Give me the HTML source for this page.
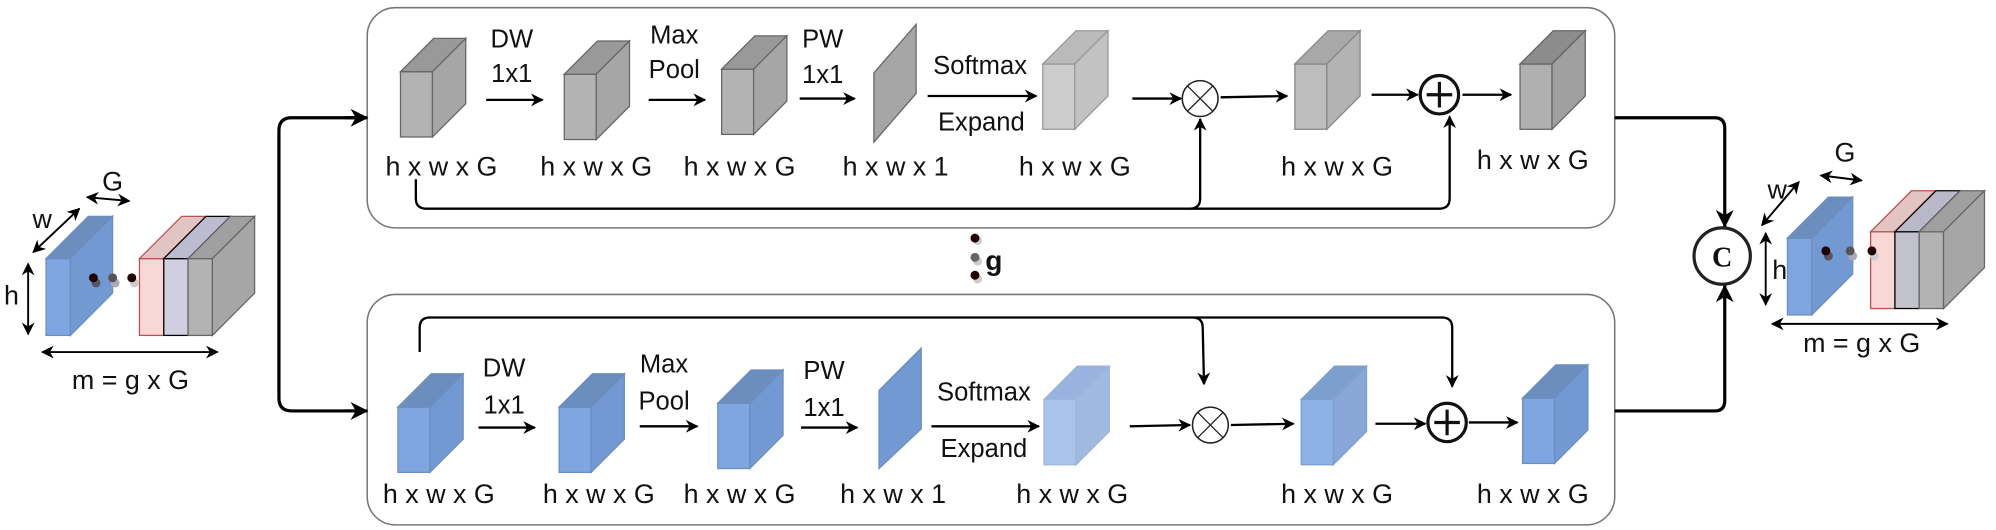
<!DOCTYPE html>
<html><head><meta charset="utf-8"><style>
html,body{margin:0;padding:0;background:#fff;}
svg{display:block;}
text{font-family:"Liberation Sans",Arial,sans-serif;fill:#111;}
</style></head><body>
<svg width="1996" height="530" viewBox="0 0 1560 414" preserveAspectRatio="none" xmlns="http://www.w3.org/2000/svg">
<defs>
<marker id="a" markerWidth="10" markerHeight="10" refX="9" refY="5" orient="auto" markerUnits="userSpaceOnUse"><path d="M0,0 L10,5 L0,10 L3,5 Z" fill="#000"/></marker>
<marker id="b" markerWidth="14" markerHeight="14" refX="13" refY="7" orient="auto" markerUnits="userSpaceOnUse"><path d="M0,0 L14,7 L0,14 L4,7 Z" fill="#000"/></marker>
<marker id="s" markerWidth="10" markerHeight="10" refX="1" refY="5" orient="auto" markerUnits="userSpaceOnUse"><path d="M10,0 L0,5 L10,10 L7,5 Z" fill="#000"/></marker>
</defs>

<rect x="287" y="6" width="975" height="172" rx="22" fill="#fff" stroke="#777" stroke-width="1.2"/>
<rect x="287" y="230" width="975" height="180" rx="22" fill="#fff" stroke="#777" stroke-width="1.2"/>

<path d="M285,92 L228,92 Q218,92 218,102 L218,311 Q218,321 228,321 L285,321" fill="none" stroke="#000" stroke-width="2.5"/>
<path d="M270,92 L287,92" stroke="#000" stroke-width="2.5" marker-end="url(#b)"/>
<path d="M270,321 L287,321" stroke="#000" stroke-width="2.5" marker-end="url(#b)"/>
<path d="M1262,92 L1340,92 Q1348,92 1348,100 L1348,177" fill="none" stroke="#000" stroke-width="2.5" marker-end="url(#b)"/>
<path d="M1262,321 L1340,321 Q1348,321 1348,313 L1348,223" fill="none" stroke="#000" stroke-width="2.5" marker-end="url(#b)"/>
<circle cx="1346" cy="200" r="22" fill="#fff" stroke="#222" stroke-width="2.5"/>
<text x="1346" y="208" font-size="22" font-weight="bold" text-anchor="middle" style="font-family:'Liberation Serif',serif">C</text>

<g stroke="#666" stroke-width="1">
<rect x="313" y="56" width="25" height="51" fill="#b3b3b3"/><polygon points="313,56 339,30 364,30 338,56" fill="#999"/><polygon points="338,56 364,30 364,81 338,107" fill="#a6a6a6"/>
<rect x="441" y="58" width="25" height="51" fill="#b3b3b3"/><polygon points="441,58 467,32 492,32 466,58" fill="#999"/><polygon points="466,58 492,32 492,83 466,109" fill="#a6a6a6"/>
<rect x="564" y="54" width="25" height="51" fill="#b3b3b3"/><polygon points="564,54 590,28 615,28 589,54" fill="#999"/><polygon points="589,54 615,28 615,79 589,105" fill="#a6a6a6"/>
<polygon points="683,57 716,19 716,73 683,111" fill="#a6a6a6"/>
<rect x="815" y="50" width="25" height="51" fill="#cccccc" stroke="#999"/><polygon points="815,50 841,24 866,24 840,50" fill="#bababa" stroke="#999"/><polygon points="840,50 866,24 866,75 840,101" fill="#c2c2c2" stroke="#999"/>
<rect x="1012" y="50" width="25" height="51" fill="#bdbdbd" stroke="#888"/><polygon points="1012,50 1038,24 1063,24 1037,50" fill="#a8a8a8" stroke="#888"/><polygon points="1037,50 1063,24 1063,75 1037,101" fill="#b3b3b3" stroke="#888"/>
<rect x="1188" y="50" width="25" height="51" fill="#b0b0b0"/><polygon points="1188,50 1214,24 1239,24 1213,50" fill="#8c8c8c"/><polygon points="1213,50 1239,24 1239,75 1213,101" fill="#a0a0a0"/>
</g>

<g stroke="#6c8ebf" stroke-width="1">
<rect x="311" y="318" width="25" height="51" fill="#7ea6e0"/><polygon points="311,318 337,292 362,292 336,318" fill="#6c8ebf"/><polygon points="336,318 362,292 362,343 336,369" fill="#7399d3"/>
<rect x="437" y="318" width="25" height="51" fill="#7ea6e0"/><polygon points="437,318 463,292 488,292 462,318" fill="#6c8ebf"/><polygon points="462,318 488,292 488,343 462,369" fill="#7399d3"/>
<rect x="561" y="315" width="25" height="51" fill="#7ea6e0"/><polygon points="561,315 587,289 612,289 586,315" fill="#6c8ebf"/><polygon points="586,315 612,289 612,340 586,366" fill="#7399d3"/>
<polygon points="687,305 720,272 720,335 687,366" fill="#7399d3"/>
<rect x="816" y="312" width="25" height="51" fill="#a9c4eb" stroke="#9db6dd"/><polygon points="816,312 842,286 867,286 841,312" fill="#98b3dd" stroke="#9db6dd"/><polygon points="841,312 867,286 867,337 841,363" fill="#9fb9e0" stroke="#9db6dd"/>
<rect x="1017" y="312" width="25" height="51" fill="#8fb2e6" stroke="#7d9fd0"/><polygon points="1017,312 1043,286 1068,286 1042,312" fill="#7d9fd0" stroke="#7d9fd0"/><polygon points="1042,312 1068,286 1068,337 1042,363" fill="#88a7d8" stroke="#7d9fd0"/>
<rect x="1190" y="311" width="25" height="51" fill="#7ea6e0"/><polygon points="1190,311 1216,285 1241,285 1215,311" fill="#6c8ebf"/><polygon points="1215,311 1241,285 1241,336 1215,362" fill="#7399d3"/>
</g>

<g stroke="#000" stroke-width="1.8" fill="none">
<line x1="380" y1="78" x2="424" y2="78" marker-end="url(#a)"/>
<line x1="507" y1="78" x2="551" y2="78" marker-end="url(#a)"/>
<line x1="625" y1="77" x2="668" y2="77" marker-end="url(#a)"/>
<line x1="725" y1="75" x2="810" y2="75" marker-end="url(#a)"/>
<line x1="885" y1="77" x2="923" y2="77" marker-end="url(#a)"/>
<line x1="954" y1="76" x2="1006" y2="75" marker-end="url(#a)"/>
<line x1="1072" y1="74" x2="1108" y2="74" marker-end="url(#a)"/>
<line x1="1143" y1="74" x2="1181" y2="74" marker-end="url(#a)"/>
<path d="M325,140 L325,155 Q325,163 333,163 L930,163 Q938,163 938,155 L938,93" marker-end="url(#a)"/>
<path d="M930,163 L1125,163 Q1133,163 1133,155 L1133,91" marker-end="url(#a)"/>
<line x1="374" y1="334" x2="418" y2="334" marker-end="url(#a)"/>
<line x1="500" y1="333" x2="545" y2="333" marker-end="url(#a)"/>
<line x1="626" y1="334" x2="670" y2="334" marker-end="url(#a)"/>
<line x1="728" y1="333" x2="812" y2="333" marker-end="url(#a)"/>
<line x1="883" y1="333" x2="930" y2="332" marker-end="url(#a)"/>
<line x1="962" y1="332" x2="1011" y2="331" marker-end="url(#a)"/>
<line x1="1075" y1="331" x2="1114" y2="331" marker-end="url(#a)"/>
<line x1="1148" y1="330" x2="1186" y2="330" marker-end="url(#a)"/>
<path d="M328,275 L328,256 Q328,248 336,248 L932,248 Q940,248 940,256 L941,300" marker-end="url(#a)"/>
<path d="M932,248 L1127,248 Q1135,248 1135,256 L1135,302" marker-end="url(#a)"/>
</g>

<circle cx="938" cy="77" r="14" fill="#fff" stroke="#222" stroke-width="1.2"/>
<path d="M928,67 L948,87 M948,67 L928,87" stroke="#222" stroke-width="1"/>
<circle cx="1125" cy="74" r="15" fill="#fff" stroke="#111" stroke-width="2.5"/>
<path d="M1125,64 V84 M1115,74 H1135" stroke="#111" stroke-width="2.5"/>
<circle cx="946" cy="332" r="14" fill="#fff" stroke="#222" stroke-width="1.2"/>
<path d="M936,322 L956,342 M956,322 L936,342" stroke="#222" stroke-width="1"/>
<circle cx="1131" cy="330" r="15" fill="#fff" stroke="#111" stroke-width="2.5"/>
<path d="M1131,320 V340 M1121,330 H1141" stroke="#111" stroke-width="2.5"/>

<g font-size="20" text-anchor="middle">
<text x="400" y="37">DW</text><text x="400" y="64">1x1</text>
<text x="527" y="34">Max</text><text x="527" y="61">Pool</text>
<text x="643" y="37">PW</text><text x="643" y="65">1x1</text>
<text x="766" y="58">Softmax</text><text x="767" y="102">Expand</text>
<text x="394" y="294">DW</text><text x="394" y="323">1x1</text>
<text x="519" y="291">Max</text><text x="519" y="320">Pool</text>
<text x="644" y="296">PW</text><text x="644" y="325">1x1</text>
<text x="769" y="313">Softmax</text><text x="769" y="357">Expand</text>
</g>
<g font-size="21" text-anchor="middle">
<text x="345" y="137">h x w x G</text><text x="466" y="137">h x w x G</text><text x="578" y="137">h x w x G</text><text x="700" y="137">h x w x 1</text><text x="840" y="137">h x w x G</text><text x="1045" y="137">h x w x G</text><text x="1198" y="132">h x w x G</text>
<text x="343" y="393">h x w x G</text><text x="468" y="393">h x w x G</text><text x="578" y="393">h x w x G</text><text x="698" y="393">h x w x 1</text><text x="838" y="393">h x w x G</text><text x="1045" y="393">h x w x G</text><text x="1198" y="393">h x w x G</text>
</g>

<circle cx="764" cy="188" r="3.5" fill="#ccc"/><circle cx="762" cy="186" r="3.5" fill="#200"/>
<circle cx="764" cy="204" r="3.5" fill="#ccc"/><circle cx="762" cy="201" r="3.5" fill="#666"/>
<circle cx="764" cy="218" r="3.5" fill="#ccc"/><circle cx="762" cy="215" r="3.5" fill="#200"/>
<text x="770" y="211" font-size="22" font-weight="bold">g</text>

<g stroke-width="1">
<rect x="36" y="202" width="19" height="60" fill="#7ea6e0" stroke="#6c8ebf"/><polygon points="36,202 69,169 88,169 55,202" fill="#6c8ebf" stroke="#6c8ebf"/><polygon points="55,202 88,169 88,229 55,262" fill="#7399d3" stroke="#6c8ebf"/>
<rect x="109" y="202" width="19" height="60" fill="#f8d7d5" stroke="#b85450"/><polygon points="109,202 142,169 161,169 128,202" fill="#e2c4c2" stroke="#b85450"/>
<rect x="128" y="202" width="19" height="60" fill="#d0cfe2" stroke="#000"/><polygon points="128,202 161,169 180,169 147,202" fill="#bcbbd0" stroke="#000"/>
<rect x="147" y="202" width="19" height="60" fill="#b3b3b3" stroke="#666"/><polygon points="147,202 180,169 199,169 166,202" fill="#a0a0a0" stroke="#666"/><polygon points="166,202 199,169 199,229 166,262" fill="#a6a6a6" stroke="#666"/>
</g>
<circle cx="75" cy="221" r="3.5" fill="#556"/><circle cx="73" cy="217" r="3.5" fill="#200"/>
<circle cx="90" cy="221" r="3.5" fill="#aab"/><circle cx="88" cy="217" r="3.5" fill="#555"/>
<circle cx="105" cy="221" r="3.5" fill="#ccc"/><circle cx="103" cy="217" r="3.5" fill="#200"/>
<g stroke="#000" stroke-width="1.5">
<line x1="26" y1="197" x2="62" y2="163" marker-start="url(#s)" marker-end="url(#a)"/>
<line x1="68" y1="154" x2="101" y2="157" marker-start="url(#s)" marker-end="url(#a)"/>
<line x1="22" y1="206" x2="22" y2="261" marker-start="url(#s)" marker-end="url(#a)"/>
<line x1="33" y1="275" x2="170" y2="275" marker-start="url(#s)" marker-end="url(#a)"/>
</g>
<g font-size="21" text-anchor="middle">
<text x="33" y="178">w</text><text x="88" y="149">G</text><text x="9" y="238">h</text><text x="102" y="304">m = g x G</text>
</g>

<g stroke-width="1">
<rect x="1397" y="186" width="19" height="60" fill="#7ea6e0" stroke="#6c8ebf"/><polygon points="1397,186 1429,154 1448,154 1416,186" fill="#6c8ebf" stroke="#6c8ebf"/><polygon points="1416,186 1448,154 1448,214 1416,246" fill="#7399d3" stroke="#6c8ebf"/>
<rect x="1462" y="181" width="19" height="60" fill="#f8d7d5" stroke="#b85450"/><polygon points="1462,181 1494,149 1513,149 1481,181" fill="#e2c4c2" stroke="#b85450"/>
<rect x="1481" y="181" width="19" height="60" fill="#c2c2cc" stroke="#000"/><polygon points="1481,181 1513,149 1532,149 1500,181" fill="#b8b8c8" stroke="#000"/>
<rect x="1500" y="181" width="19" height="60" fill="#b3b3b3" stroke="#666"/><polygon points="1500,181 1532,149 1551,149 1519,181" fill="#a0a0a0" stroke="#666"/><polygon points="1519,181 1551,149 1551,209 1519,241" fill="#a6a6a6" stroke="#666"/>
</g>
<circle cx="1429" cy="200" r="3.5" fill="#556"/><circle cx="1427" cy="196" r="3.5" fill="#200"/>
<circle cx="1448" cy="200" r="3.5" fill="#aab"/><circle cx="1446" cy="196" r="3.5" fill="#555"/>
<circle cx="1465" cy="200" r="3.5" fill="#ccc"/><circle cx="1463" cy="196" r="3.5" fill="#200"/>
<g stroke="#000" stroke-width="1.5">
<line x1="1377" y1="176" x2="1406" y2="142" marker-start="url(#s)" marker-end="url(#a)"/>
<line x1="1423" y1="137" x2="1455" y2="141" marker-start="url(#s)" marker-end="url(#a)"/>
<line x1="1380" y1="182" x2="1380" y2="238" marker-start="url(#s)" marker-end="url(#a)"/>
<line x1="1385" y1="253" x2="1522" y2="253" marker-start="url(#s)" marker-end="url(#a)"/>
</g>
<g font-size="21" text-anchor="middle">
<text x="1389" y="155">w</text><text x="1442" y="126">G</text><text x="1391" y="218">h</text><text x="1455" y="275">m = g x G</text>
</g>
</svg>
</body></html>
